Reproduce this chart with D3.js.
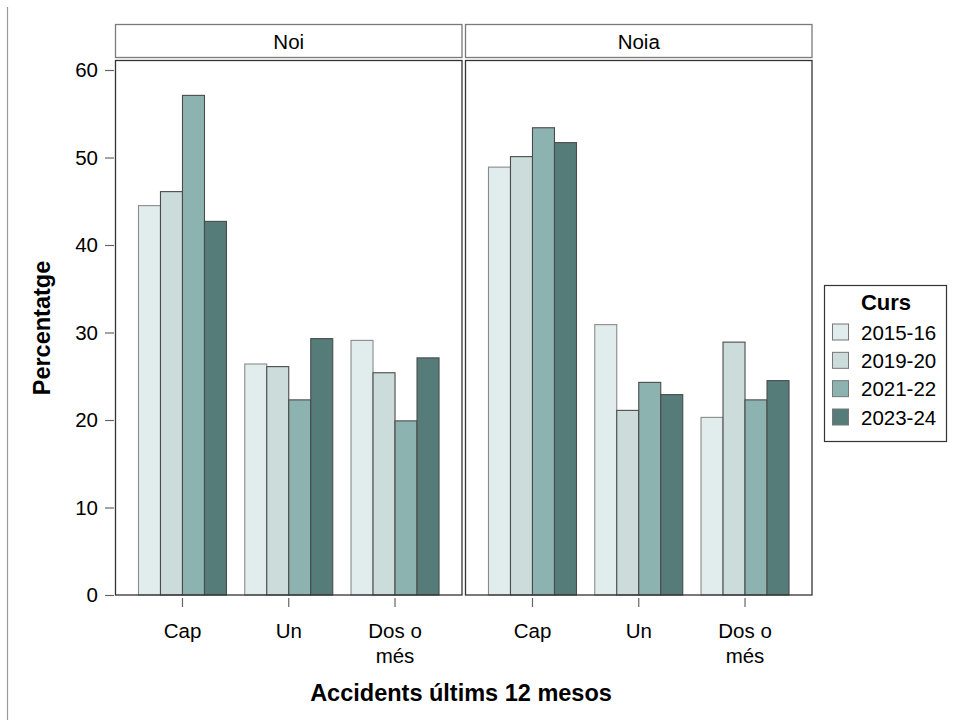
<!DOCTYPE html>
<html><head><meta charset="utf-8">
<script src="https://cdn.jsdelivr.net/npm/d3@7"></script>
<style>body{margin:0;background:#fff}svg{display:block}text{font-family:"Liberation Sans",Arial,sans-serif}</style>
</head><body><svg id="c" width="954" height="720"></svg>
<script>
const panels = ["Noi", "Noia"];
const categories = ["Cap", "Un", "Dos o més"];
const categoryLines = [["Cap"], ["Un"], ["Dos o", "més"]];
const series = ["2015-16", "2019-20", "2021-22", "2023-24"];
const colors = ["#e1eded", "#cbdcdb", "#8db3b0", "#557c79"];
// values[series][category] per panel
const noi_2015 = [44.5, 26.4, 29.1];
const noi_2019 = [46.1, 26.1, 25.4];
const noi_2021 = [57.1, 22.3, 19.9];
const noi_2023 = [42.7, 29.3, 27.1];
const noia_2015 = [48.9, 30.9, 20.3];
const noia_2019 = [50.1, 21.1, 28.9];
const noia_2021 = [53.4, 24.3, 22.3];
const noia_2023 = [51.7, 22.9, 24.5];
const yTicks = [0, 10, 20, 30, 40, 50, 60];
const panelData = [[noi_2015, noi_2019, noi_2021, noi_2023], [noia_2015, noia_2019, noia_2021, noia_2023]];

const svg = d3.select("#c");
const F = '"Liberation Sans",Arial,sans-serif';
const FS = 20.5;
// left gray line
svg.append("line").attr("x1", 7.5).attr("x2", 7.5).attr("y1", 7).attr("y2", 720).attr("stroke", "#999").attr("stroke-width", 1.2);

const pTop = 60.5, pBottom = 595, pw = 347.5;
const panelX = [115, 465];
const y = d3.scaleLinear().domain([0, 60]).range([pBottom, 70]);

panelData.forEach((pd, pi) => {
  const x0 = panelX[pi];
  const g = svg.append("g").attr("transform", `translate(${x0},0)`);
  // strip
  g.append("rect").attr("x", 0.5).attr("y", 24.5).attr("width", pw - 1).attr("height", 33).attr("fill", "#fff").attr("stroke", "#7a7a7a").attr("stroke-width", 1.3);
  g.append("text").attr("x", pw / 2).attr("y", 48.5).attr("text-anchor", "middle").attr("font-size", FS).text(panels[pi]);
  const x = d3.scalePoint().domain(categories).range([0, pw]).padding(0.635);
  const xs = d3.scaleBand().domain(series).range([-44, 44]);
  categories.forEach((c, ci) => {
    series.forEach((s, si) => {
      const v = pd[si][ci];
      g.append("rect").attr("x", x(c) + xs(s)).attr("y", y(v)).attr("width", xs.bandwidth()).attr("height", y(0) - y(v))
        .attr("fill", colors[si]).attr("stroke", si === 0 ? "#8a8a8a" : "#4a4a4a").attr("stroke-width", 1.1);
    });
  });
  // panel border
  g.append("rect").attr("x", 0.5).attr("y", pTop).attr("width", pw - 1).attr("height", pBottom - pTop).attr("fill", "none").attr("stroke", "#333").attr("stroke-width", 1.3);
  categories.forEach((c, ci) => {
    g.append("line").attr("x1", x(c)).attr("x2", x(c)).attr("y1", pBottom + 3).attr("y2", pBottom + 12).attr("stroke", "#666").attr("stroke-width", 1.2);
    const t = g.append("text").attr("x", x(c)).attr("text-anchor", "middle").attr("font-size", FS);
    categoryLines[ci].forEach((l, li) => t.append("tspan").attr("x", x(c)).attr("y", 637.5 + li * 25).text(l));
  });
});

// y axis
const ya = svg.append("g").attr("transform", `translate(114,0)`)
  .call(d3.axisLeft(y).tickValues(yTicks).tickSize(9).tickPadding(7));
ya.select(".domain").remove();
ya.selectAll("line").attr("stroke", "#666").attr("stroke-width", 1.2);
ya.selectAll("text").attr("font-size", FS).attr("font-family", F).attr("fill", "#000");

svg.append("text").attr("transform", "translate(50,328) rotate(-90)").attr("text-anchor", "middle").attr("font-size", 23.5).attr("font-weight", "bold").text("Percentatge");
svg.append("text").attr("x", 461).attr("y", 701).attr("text-anchor", "middle").attr("font-size", 23.5).attr("font-weight", "bold").text("Accidents últims 12 mesos");

// legend
const lg = svg.append("g");
lg.append("rect").attr("x", 824.5).attr("y", 285.5).attr("width", 122).attr("height", 156).attr("fill", "#fff").attr("stroke", "#333").attr("stroke-width", 1.2);
lg.append("text").attr("x", 886).attr("y", 309.5).attr("text-anchor", "middle").attr("font-size", 22).attr("font-weight", "bold").text("Curs");
const ly = d3.scalePoint().domain(series).range([332, 417]);
series.forEach((s, si) => {
  lg.append("rect").attr("x", 832.5).attr("y", ly(s) - 8).attr("width", 16).attr("height", 16).attr("fill", colors[si]).attr("stroke", "#777").attr("stroke-width", 1);
  lg.append("text").attr("x", 861).attr("y", ly(s) + 7.5).attr("font-size", FS).text(s);
});
</script></body></html>
